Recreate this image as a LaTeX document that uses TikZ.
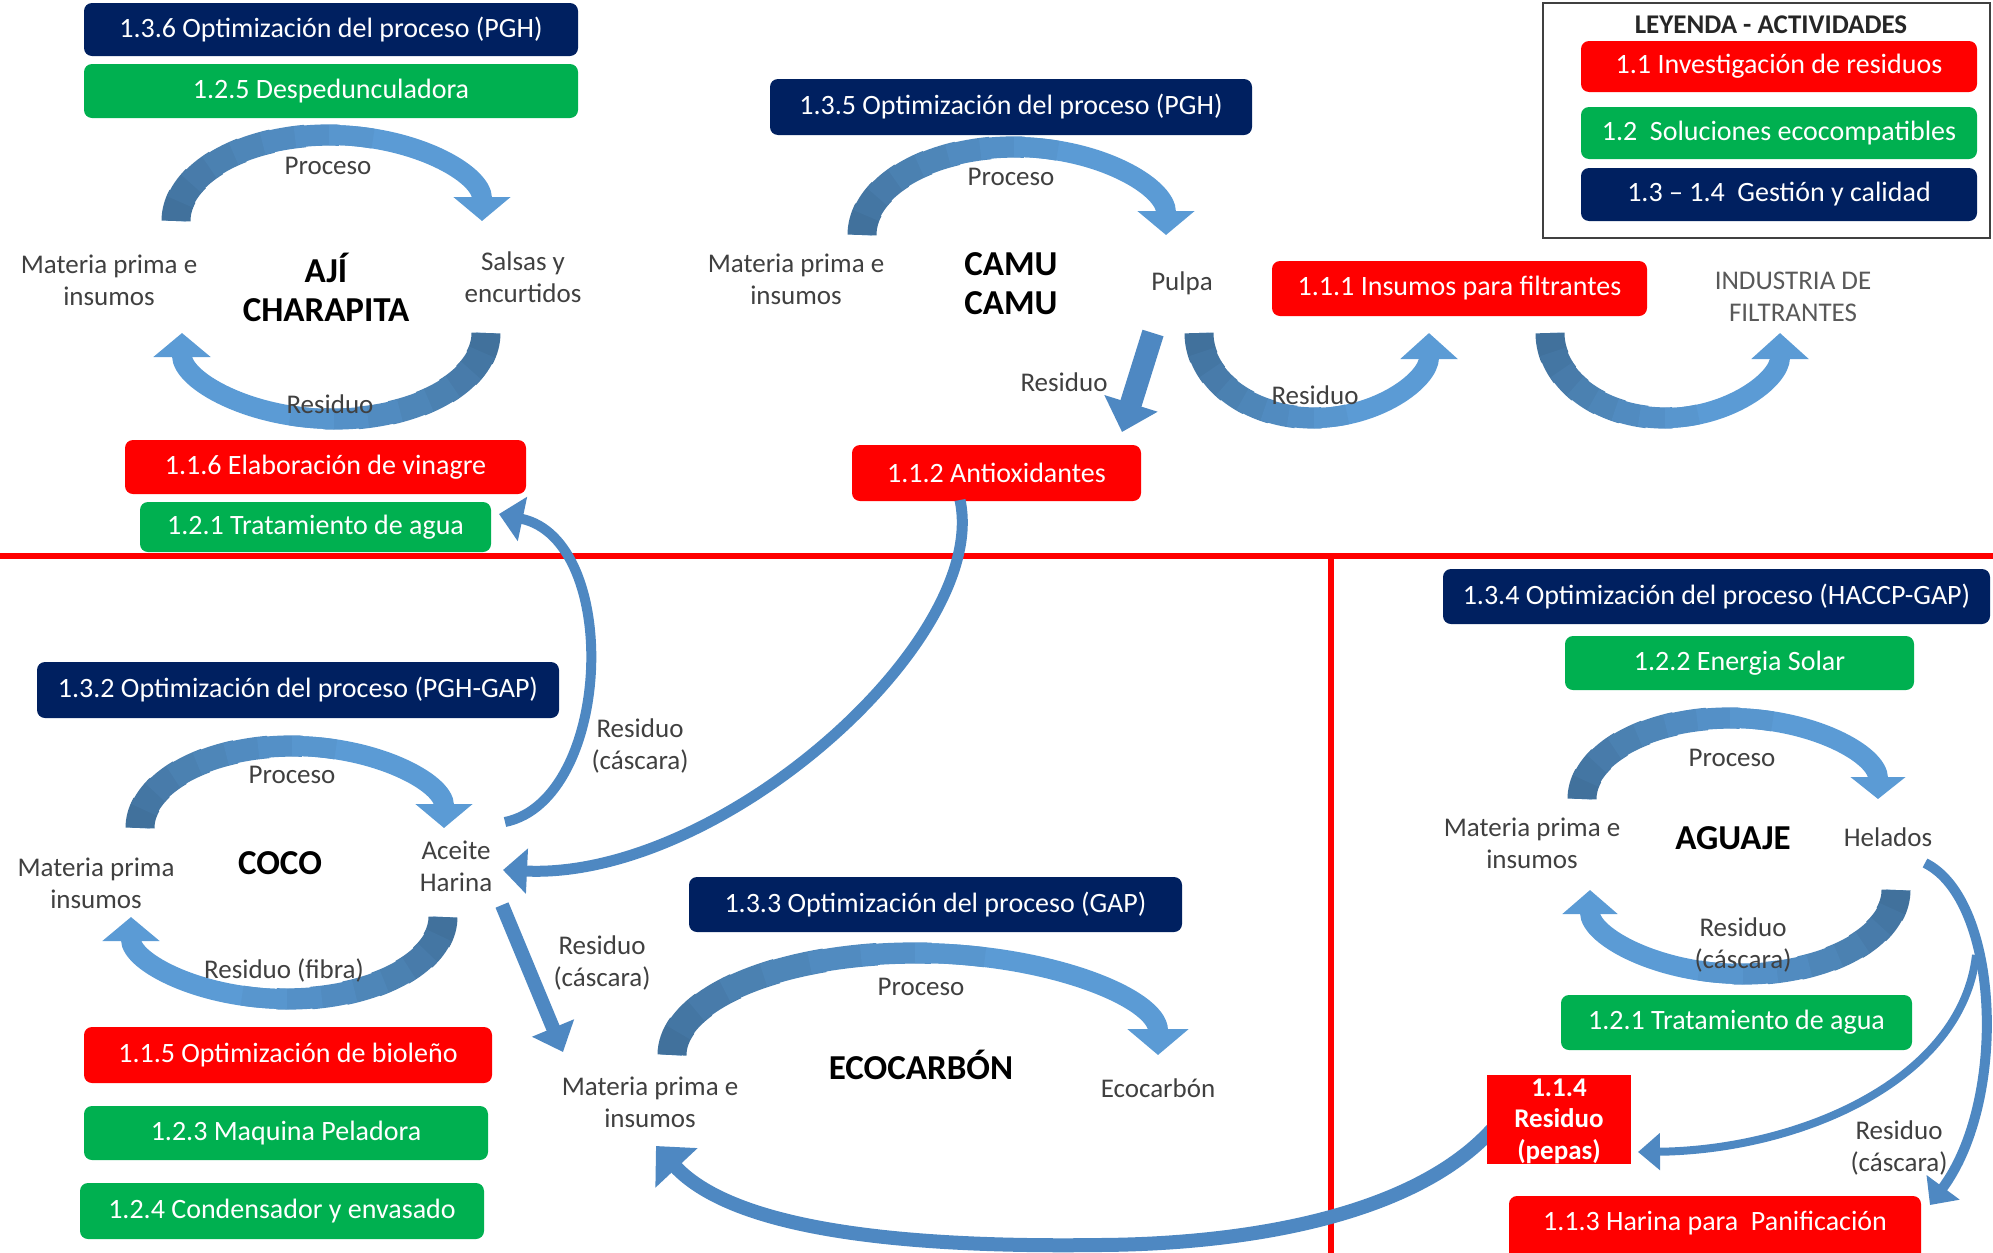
\documentclass[tikz,border=0pt]{standalone}
\usepackage{fontspec}
\setmainfont{Carlito}
\usetikzlibrary{arrows.meta}
\definecolor{navy}{RGB}{0,32,96}
\definecolor{grn}{RGB}{0,176,80}
\definecolor{rd}{RGB}{255,0,0}
\definecolor{adark}{RGB}{65,113,156}
\definecolor{alight}{RGB}{91,155,213}
\definecolor{amid}{RGB}{78,136,194}
\definecolor{lblc}{RGB}{64,64,64}
\tikzset{
 box/.style={rounded corners=4pt, inner sep=0pt, text=white, font=\fontsize{14}{16}\selectfont, align=center},
 navybox/.style={box, fill=navy},
 greenbox/.style={box, fill=grn},
 redbox/.style={box, fill=rd},
 sqredbox/.style={box, fill=rd, rounded corners=0pt},
 legframe/.style={draw=black!75, line width=1pt, inner sep=0pt},
 lbl/.style={text=lblc, align=center, font=\fontsize{13.5}{16}\selectfont, inner sep=1pt},
 ttl/.style={text=black, align=center, font=\bfseries\fontsize{17.5}{19.5}\selectfont, inner sep=1pt},
 redline/.style={draw=rd, line width=3pt},
 barrow/.style={draw=amid, line cap=butt},
}
% box from corner pixels
\newcommand\bx[7]{\node[#6, minimum width={(#4-#2)*0.5pt}, minimum height={(#5-#3)*0.5pt}] (#1) at ({(#2+#4)/2},{(#3+#5)/2}) {#7};}
% gradient, tapered arc arrow: center, rx, ry, start, end, lw(pt), tip width, tip length
\newcommand\garc[8]{%
 \draw[line width=#6pt, draw=alight, -{Triangle[width=#7,length=#8]}] ([shift={(#4:#2 and #3)}]#1) arc[start angle=#4, end angle=#5, x radius=#2, y radius=#3];
 \foreach \k in {0,...,7}{%
   \pgfmathsetmacro\aa{#4+(#5-#4)*\k/14}%
   \pgfmathsetmacro\bb{#4+(#5-#4)*(\k+1.3)/14}%
   \pgfmathsetmacro\mx{100-\k*12.5}%
   \pgfmathsetmacro\lw{#6*(1.45-0.45*\k/7)}%
   \draw[line width=\lw pt, draw=adark!\mx!alight] ([shift={(\aa:#2 and #3)}]#1) arc[start angle=\aa, end angle=\bb, x radius=#2, y radius=#3];
 }%
}
\begin{document}
\begin{tikzpicture}[x=0.5pt,y=-0.5pt]
\useasboundingbox (0,0) rectangle (1993,1253);
% ---- separating red lines
\coordinate (hl1) at (0,556); \coordinate (hl2) at (1993,556);
\coordinate (vl1) at (1331,556); \coordinate (vl2) at (1331,1253);
\draw[redline] (hl1) -- (hl2);
\draw[redline] (vl1) -- (vl2);

% ---- boxes
\bx{b136}{84}{3}{578}{56}{navybox}{1.3.6 Optimización del proceso (PGH)}
\bx{b125}{84}{64}{578}{118}{greenbox}{1.2.5 Despedunculadora}
\bx{b116}{125}{440}{526}{494}{redbox}{1.1.6 Elaboración de vinagre}
\bx{b121a}{140}{502}{491}{552}{greenbox}{1.2.1 Tratamiento de agua}
\bx{b135}{770}{79}{1252}{135}{navybox}{1.3.5 Optimización del proceso (PGH)}
\bx{b112}{852}{445}{1141}{501}{redbox}{1.1.2 Antioxidantes}
\bx{b111}{1272}{261}{1647}{316}{redbox}{1.1.1 Insumos para filtrantes}
\bx{leg}{1543}{3}{1990}{238}{legframe}{}
\bx{l11}{1581}{41}{1977}{92}{redbox}{1.1 Investigación de residuos}
\bx{l12}{1581}{107}{1977}{159}{greenbox}{1.2~~Soluciones ecocompatibles}
\bx{l13}{1581}{168}{1977}{221}{navybox}{1.3 – 1.4~~Gestión y calidad}
\bx{b132}{37}{662}{559}{718}{navybox}{1.3.2 Optimización del proceso (PGH-GAP)}
\bx{b115}{84}{1027}{492}{1083}{redbox}{1.1.5 Optimización de bioleño}
\bx{b123}{84}{1106}{488}{1160}{greenbox}{1.2.3 Maquina Peladora}
\bx{b124}{80}{1183}{484}{1239}{greenbox}{1.2.4 Condensador y envasado}
\bx{b133}{689}{877}{1182}{932}{navybox}{1.3.3 Optimización del proceso (GAP)}
\bx{b134}{1443}{569}{1990}{624}{navybox}{1.3.4 Optimización del proceso (HACCP-GAP)}
\bx{b122}{1565}{636}{1914}{690}{greenbox}{1.2.2 Energia Solar}
\bx{b121b}{1561}{995}{1912}{1050}{greenbox}{1.2.1 Tratamiento de agua}
\bx{b113}{1509}{1196}{1921}{1262}{redbox}{}
\node[box] (b113t) at (1715,1223) {1.1.3 Harina para~~Panificación};

% ---- cycle arcs (centres)
\coordinate (Cajit) at (329,221);  \coordinate (Cajib) at (334,333);
\coordinate (Ccamu) at (1014,235); \coordinate (Cu1) at (1314,333); \coordinate (Cu2) at (1665,333);
\coordinate (Ccocot) at (292,828); \coordinate (Ccocob) at (287,917);
\coordinate (Ceco) at (915,1055);
\coordinate (Caguat) at (1730,799); \coordinate (Caguab) at (1743,890);

\garc{Cajit}{153}{86}{180}{360}{10}{28pt}{12pt}
\garc{Cajib}{152}{86}{0}{180}{10}{28pt}{12pt}
\garc{Ccamu}{152}{88}{180}{360}{10}{28pt}{12pt}
\garc{Cu1}{115}{85}{180}{0}{10}{28pt}{13pt}
\garc{Cu2}{115}{85}{180}{0}{10}{28pt}{13pt}
\garc{Ccocot}{152}{82}{180}{360}{10}{28pt}{12pt}
\garc{Ccocob}{156}{82}{0}{180}{10}{28pt}{12pt}
\garc{Ceco}{243}{102}{180}{360}{10}{30pt}{13pt}
\garc{Caguat}{148}{81}{180}{360}{10}{27pt}{11pt}
\garc{Caguab}{153}{84}{0}{180}{10}{27pt}{12pt}

% ---- other connectors
\coordinate (a4s) at (1153,333); \coordinate (a4e) at (1122,432);
\draw[barrow, line width=11pt, -{Triangle[width=27pt,length=15pt]}] (a4s) -- (a4e);

\coordinate (a1s) at (505,822); \coordinate (a1e) at (499,514);
\draw[barrow, line width=5pt, -{Triangle[width=22pt,length=12pt]}] (a1s) .. controls (612,800) and (622,540) .. (a1e);

\coordinate (a2s) at (960,500); \coordinate (a2e) at (503,870);
\draw[barrow, line width=5.5pt, -{Triangle[width=22pt,length=12pt]}] (a2s) .. controls (990,640) and (720,880) .. (a2e);

\coordinate (a3s) at (502,905); \coordinate (a3e) at (563,1052);
\draw[barrow, line width=7pt, -{Triangle[width=22pt,length=13pt]}] (a3s) -- (a3e);

\coordinate (a5s) at (1497,1124); \coordinate (a5m) at (1100,1245); \coordinate (a5e) at (656,1146);
\draw[barrow, line width=7pt, -{Triangle[width=28pt,length=15pt]}] (a5s) .. controls (1420,1215) and (1250,1244) .. (a5m) .. controls (880,1248) and (730,1225) .. (a5e);

\coordinate (a6s) at (1925,863); \coordinate (a6e) at (1930,1205);
\draw[barrow, line width=5pt, -{Triangle[width=20pt,length=11pt]}] (a6s) .. controls (2000,900) and (2008,1100) .. (a6e);

\coordinate (a7s) at (1976,955); \coordinate (a7e) at (1638,1152);
\draw[barrow, line width=4pt, -{Triangle[width=18pt,length=11pt]}] (a7s) .. controls (1962,1080) and (1800,1150) .. (a7e);

% ---- small red box on top of arrow tail
\bx{b114}{1487}{1075}{1631}{1164}{sqredbox}{}
\node[box, font=\bfseries\fontsize{13.5}{15.7}\selectfont] (b114t) at (1559,1121) {1.1.4\\Residuo\\(pepas)};

% ---- labels
\node[ttl] (ajiT) at (326,287.5) {AJÍ\\CHARAPITA};
\node[lbl] (ajiMP) at (109,280) {Materia prima e\\insumos};
\node[lbl] (ajiOut) at (523,277) {Salsas y\\encurtidos};
\node[lbl] (ajiProc) at (328,166) {Proceso};
\node[lbl] (ajiRes) at (330,404) {Residuo};

\node[ttl] (camuT) at (1011,283.5) {CAMU\\CAMU};
\node[lbl] (camuMP) at (796,279) {Materia prima e\\insumos};
\node[lbl] (camuOut) at (1182,283) {Pulpa};
\node[lbl] (camuProc) at (1011,177) {Proceso};
\node[lbl] (camuRes1) at (1064,382) {Residuo};
\node[lbl] (camuRes2) at (1315,395) {Residuo};
\node[lbl, text=black!65] (ind) at (1793,297) {INDUSTRIA DE\\FILTRANTES};

\node[text=black!85, font=\bfseries\fontsize{13.5}{15}\selectfont] (legT) at (1771,25) {LEYENDA - ACTIVIDADES};

\node[ttl] (cocoT) at (280,863) {COCO};
\node[lbl] (cocoMP) at (96,883) {Materia prima\\insumos};
\node[lbl] (cocoOut) at (456,866) {Aceite\\Harina};
\node[lbl] (cocoProc) at (292,775) {Proceso};
\node[lbl] (cocoRes) at (284,970) {Residuo (fibra)};
\node[lbl] (resC1) at (640,746) {Residuo\\(cáscara)};
\node[lbl] (resC2) at (602,963) {Residuo\\(cáscara)};

\node[ttl] (ecoT) at (921,1065) {ECOCARBÓN};
\node[lbl] (ecoMP) at (650,1102) {Materia prima e\\insumos};
\node[lbl] (ecoProc) at (921,987) {Proceso};
\node[lbl] (ecoOut) at (1158,1088) {Ecocarbón};

\node[ttl] (aguT) at (1733,838) {AGUAJE};
\node[lbl] (aguMP) at (1532,843) {Materia prima e\\insumos};
\node[lbl] (aguOut) at (1888,837) {Helados};
\node[lbl] (aguProc) at (1732,758) {Proceso};
\node[lbl] (aguRes) at (1743,945) {Residuo\\(cáscara)};
\node[lbl] (resC3) at (1899,1148) {Residuo\\(cáscara)};
\end{tikzpicture}
\end{document}
